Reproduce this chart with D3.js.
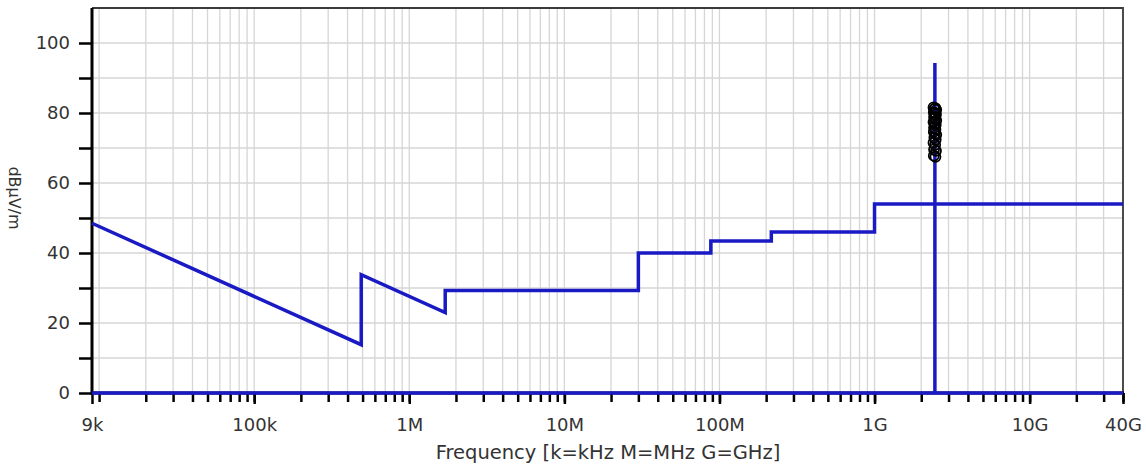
<!DOCTYPE html>
<html lang="en">
<head>
    <meta charset="UTF-8">
    <title>Emission limits</title>
    <script src="https://d3js.org/d3.v7.min.js"></script>
    <style>
        body { margin: 0; background: #fff; }
        text { font-family: "DejaVu Sans", sans-serif; fill: #333; }
        .grid line { stroke: #d6d6d6; stroke-width: 1.3px; }
        .limit { fill: none; stroke: #1a1ac4; stroke-width: 3.5px; }
    </style>
</head>
<body>
<div id="chart"></div>
<script>
    // limit line (Hz, dBuV/m)
    var limitFreq = [9e3, 490e3, 490e3, 1.705e6, 1.705e6, 30e6, 30e6, 88e6, 88e6, 216e6, 216e6, 1e9, 1e9, 40e9];
    var limitLevel = [48.5, 13.8, 33.8, 23.0, 29.3, 29.3, 40, 40, 43.4, 43.4, 46, 46, 54, 54];

    // zero line and carrier
    var zeroFreq = [9e3, 40e9];
    var zeroLevel = [0, 0];
    var carrierFreq = [2.45e9, 2.45e9];
    var carrierLevel = [0, 94.3];

    // measured peaks
    var peakFreq = [2.40e9, 2.43e9, 2.47e9, 2.50e9, 2.41e9, 2.45e9, 2.49e9, 2.42e9, 2.46e9,
                    2.50e9, 2.40e9, 2.44e9, 2.48e9, 2.42e9, 2.47e9, 2.41e9, 2.45e9, 2.50e9,
                    2.43e9, 2.48e9, 2.40e9, 2.46e9, 2.42e9, 2.49e9, 2.41e9, 2.47e9];
    var peakLevel = [81.6, 81.2, 81.4, 80.9, 80.2, 79.9, 79.6, 78.8, 78.5,
                     77.9, 77.4, 77.0, 76.6, 75.8, 75.3, 74.6, 74.1, 73.8,
                     73.0, 72.4, 71.5, 70.9, 69.6, 69.2, 67.8, 67.5];

    var xTickValues = [9e3, 1e5, 1e6, 1e7, 1e8, 1e9, 1e10, 4e10];
    var xTickLabels = ["9k", "100k", "1M", "10M", "100M", "1G", "10G", "40G"];

    var W = 1146, H = 466;
    var pLeft = 92, pRight = 1123, pTop = 8, pBottom = 393;

    var x = d3.scaleLog().domain([9e3, 4e10]).range([pLeft, pRight]);
    var y = d3.scaleLinear().domain([0, 110]).range([pBottom, pTop]);

    // minor decade steps for grid and ticks
    var minor = [];
    for (var e = 3; e <= 10; e++) {
        for (var k = 1; k <= 9; k++) {
            var v = k * Math.pow(10, e);
            if (v > 9e3 && v <= 4e10) minor.push(v);
        }
    }

    var svg = d3.select("#chart").append("svg")
        .attr("width", W)
        .attr("height", H);

    // grid
    var grid = svg.append("g").attr("class", "grid");
    grid.selectAll(".vg").data(minor).enter().append("line")
        .attr("x1", function(d) { return x(d); })
        .attr("x2", function(d) { return x(d); })
        .attr("y1", pTop).attr("y2", pBottom);
    grid.selectAll(".hg").data(d3.range(10, 110, 10)).enter().append("line")
        .attr("x1", pLeft).attr("x2", pRight)
        .attr("y1", function(d) { return y(d); })
        .attr("y2", function(d) { return y(d); });

    // frame top/right
    svg.append("path")
        .attr("d", "M" + pLeft + "," + pTop + "H" + pRight + "V" + pBottom)
        .attr("fill", "none").attr("stroke", "#3a3a3a").attr("stroke-width", 1.8);

    // y axis
    var yAxis = d3.axisLeft(y).tickValues(d3.range(0, 110, 10))
        .tickSize(13).tickPadding(9)
        .tickFormat(function(d) { return d % 20 === 0 ? d : ""; });
    var gy = svg.append("g").attr("transform", "translate(" + pLeft + ",0)").call(yAxis);
    gy.select(".domain").remove();
    gy.selectAll(".tick text").attr("font-size", 18).attr("fill", "#333")
        .attr("font-family", "DejaVu Sans, sans-serif");
    svg.append("line")
        .attr("x1", pLeft).attr("x2", pLeft).attr("y1", pTop).attr("y2", pBottom + 2)
        .attr("stroke", "#000").attr("stroke-width", 3);

    // x axis: minor ticks then labelled ones
    var gx = svg.append("g").attr("transform", "translate(0," + pBottom + ")");
    gx.call(d3.axisBottom(x).tickValues(minor).tickSize(9).tickFormat(""));
    gx.select(".domain").remove();
    var gx2 = svg.append("g").attr("transform", "translate(0," + pBottom + ")");
    gx2.call(d3.axisBottom(x).tickValues(xTickValues).tickSize(11).tickPadding(14)
        .tickFormat(function(d, i) { return xTickLabels[i]; }));
    gx2.select(".domain").remove();
    svg.selectAll(".tick line").attr("stroke", "#000").attr("stroke-width", 2.5);
    gx2.selectAll(".tick text").attr("font-size", 18).attr("fill", "#333")
        .attr("font-family", "DejaVu Sans, sans-serif");
    svg.append("line")
        .attr("x1", pLeft).attr("x2", pRight + 1).attr("y1", pBottom).attr("y2", pBottom)
        .attr("stroke", "#000").attr("stroke-width", 3);

    // lines
    var line = d3.line()
        .x(function(d) { return x(d[0]); })
        .y(function(d) { return y(d[1]); });
    svg.append("path").attr("class", "limit")
        .attr("d", line(d3.zip(limitFreq, limitLevel)));
    svg.append("path").attr("class", "limit")
        .attr("d", line(d3.zip(zeroFreq, zeroLevel)));
    svg.append("path").attr("class", "limit")
        .attr("d", line(d3.zip(carrierFreq, carrierLevel)));

    // peaks
    svg.selectAll(".pk").data(d3.zip(peakFreq, peakLevel)).enter().append("circle")
        .attr("cx", function(d) { return x(d[0]); })
        .attr("cy", function(d) { return y(d[1]); })
        .attr("r", 5)
        .attr("fill", "none").attr("stroke", "#000").attr("stroke-width", 1.8);

    // titles
    svg.append("text")
        .attr("x", 608).attr("y", 459)
        .attr("text-anchor", "middle").attr("font-size", 19.5)
        .text("Frequency [k=kHz M=MHz G=GHz]");
    svg.append("text")
        .attr("transform", "translate(9,198) rotate(90)")
        .attr("text-anchor", "middle").attr("font-size", 16)
        .text("dBµV/m");
</script>
</body>
</html>
